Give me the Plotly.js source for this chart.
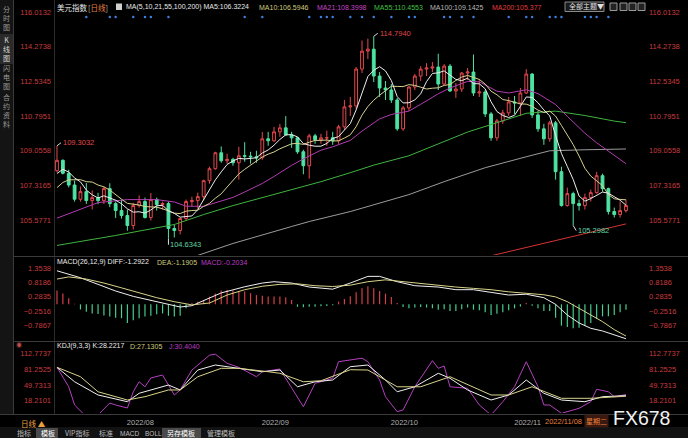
<!DOCTYPE html>
<html><head><meta charset="utf-8">
<script src="https://cdn.plot.ly/plotly-3.0.1.min.js"></script>
<style>html,body{margin:0;padding:0;background:#000;overflow:hidden}#chart{width:688px;height:438px}</style>
</head><body><div id="chart"></div>
<script>
// ---------- data ----------
const dates = ['2022-07-14','2022-07-15','2022-07-18','2022-07-19','2022-07-20','2022-07-21','2022-07-22','2022-07-25','2022-07-26','2022-07-27','2022-07-28','2022-07-29',
'2022-08-01','2022-08-02','2022-08-03','2022-08-04','2022-08-05','2022-08-08','2022-08-09','2022-08-10','2022-08-11','2022-08-12','2022-08-15','2022-08-16','2022-08-17','2022-08-18','2022-08-19','2022-08-22','2022-08-23','2022-08-24','2022-08-25','2022-08-26','2022-08-29','2022-08-30','2022-08-31',
'2022-09-01','2022-09-02','2022-09-05','2022-09-06','2022-09-07','2022-09-08','2022-09-09','2022-09-12','2022-09-13','2022-09-14','2022-09-15','2022-09-16','2022-09-19','2022-09-20','2022-09-21','2022-09-22','2022-09-23','2022-09-26','2022-09-27','2022-09-28','2022-09-29','2022-09-30',
'2022-10-03','2022-10-04','2022-10-05','2022-10-06','2022-10-07','2022-10-10','2022-10-11','2022-10-12','2022-10-13','2022-10-14','2022-10-17','2022-10-18','2022-10-19','2022-10-20','2022-10-21','2022-10-24','2022-10-25','2022-10-26','2022-10-27','2022-10-28','2022-10-31',
'2022-11-01','2022-11-02','2022-11-03','2022-11-04','2022-11-07','2022-11-08','2022-11-09','2022-11-10','2022-11-11','2022-11-14','2022-11-15','2022-11-16','2022-11-17','2022-11-18','2022-11-21','2022-11-22','2022-11-23','2022-11-24','2022-11-25','2022-11-28'];

const openP = [108.05,108.57,107.92,107.33,106.62,107.00,106.55,106.70,106.55,107.15,106.40,106.05,
105.80,105.30,106.30,106.50,105.70,106.60,106.35,106.40,105.15,105.05,105.65,106.50,106.55,106.75,107.55,108.15,108.95,108.55,108.62,108.45,108.80,108.78,108.75,
108.70,109.65,109.55,110.00,110.20,109.85,109.70,109.00,108.30,109.80,109.60,109.70,109.70,109.55,110.25,111.25,111.30,113.15,114.05,114.15,112.80,112.20,
112.10,111.60,110.15,111.20,112.25,112.80,113.15,113.20,113.25,112.40,113.30,112.05,112.15,112.95,113.00,111.95,112.00,110.90,109.70,110.55,110.95,
111.50,111.45,111.95,112.90,110.85,110.15,109.65,110.45,108.00,106.30,106.90,106.40,106.30,106.70,106.95,107.80,107.15,106.00,105.85,106.05];
const highP = [109.30,108.62,108.10,107.55,107.26,107.43,107.06,106.94,107.25,107.42,106.50,106.59,
106.10,106.44,106.81,106.70,106.93,106.70,106.50,106.50,105.35,105.70,106.60,106.75,106.95,107.60,108.25,109.00,109.27,108.90,108.70,109.25,109.48,109.00,109.05,
109.99,110.00,110.25,110.40,110.79,110.00,109.75,109.10,109.90,109.90,109.90,110.06,110.00,110.35,111.60,111.75,113.25,114.58,114.68,114.794,113.00,112.55,
112.40,111.70,111.30,112.30,112.90,113.30,113.45,113.50,113.92,113.40,113.40,112.45,113.00,113.20,113.88,112.65,112.10,111.00,110.65,111.10,111.75,
111.80,112.20,113.15,112.95,111.05,110.40,110.55,110.55,108.25,107.20,107.00,106.60,106.90,107.10,107.99,107.90,107.20,106.20,106.50,106.60];
const lowP = [107.97,107.86,107.21,106.50,106.50,106.38,106.11,106.37,106.38,106.22,105.68,105.65,
105.04,105.10,106.20,105.65,105.55,106.05,106.10,104.6343,104.70,104.85,105.55,106.25,106.15,106.55,107.40,108.10,108.45,108.40,108.30,107.60,108.50,108.40,108.45,
108.60,109.30,109.50,109.75,109.80,109.20,108.90,107.87,107.65,109.40,109.40,109.30,109.35,109.40,110.10,110.80,111.15,112.95,113.65,112.50,111.75,111.60,
111.45,110.05,110.05,111.05,112.10,112.55,112.80,113.00,112.10,112.35,112.00,111.70,112.00,112.60,111.80,111.75,110.75,109.55,109.55,110.40,110.80,
110.90,110.80,111.90,110.70,110.00,109.35,109.50,107.60,106.25,106.25,105.2982,106.05,106.10,106.50,106.90,107.00,105.85,105.70,105.70,105.95];
const closeP = [108.57,107.92,107.33,106.62,107.00,106.55,106.70,106.55,107.15,106.40,106.05,105.80,
105.30,106.30,106.50,105.70,106.60,106.35,106.40,105.15,105.05,105.65,106.50,106.55,106.75,107.55,108.15,108.95,108.55,108.62,108.45,108.80,108.78,108.75,108.70,
109.65,109.55,110.00,110.20,109.85,109.70,109.00,108.30,109.80,109.60,109.70,109.70,109.55,110.25,111.25,111.30,113.15,114.05,114.15,112.80,112.20,112.10,
111.60,110.15,111.20,112.25,112.80,113.15,113.20,113.25,112.40,113.30,112.05,112.15,112.95,113.00,111.95,112.00,110.90,109.70,110.55,110.95,111.50,
111.45,111.95,112.90,110.85,110.15,109.65,110.45,108.00,106.30,106.90,106.40,106.30,106.70,106.95,107.80,107.15,106.00,105.85,106.05,106.30];

const ma5 = [107.91,108.12,107.98,107.69,107.49,107.08,106.84,106.68,106.79,106.67,106.57,106.39,106.14,105.97,105.99,105.92,106.08,106.29,106.31,106.04,105.91,105.72,105.75,105.78,106.10,106.60,107.10,107.59,107.99,108.36,108.54,108.67,108.64,108.68,108.70,108.94,109.09,109.33,109.62,109.85,109.86,109.75,109.41,109.33,109.28,109.28,109.42,109.67,109.76,110.09,110.41,111.10,112.00,112.78,113.09,113.27,113.06,112.57,111.77,111.45,111.46,111.60,111.91,112.52,112.93,112.96,113.06,112.84,112.63,112.57,112.69,112.42,112.41,112.16,111.51,111.02,110.82,110.72,110.83,111.28,111.75,111.73,111.46,111.10,110.80,109.82,108.91,108.26,107.61,106.78,106.52,106.65,106.83,106.98,106.92,106.75,106.57,106.32];
const ma10 = [107.20,107.46,107.59,107.60,107.60,107.50,107.48,107.33,107.24,107.08,106.83,106.62,106.41,106.38,106.33,106.25,106.24,106.22,106.14,106.02,105.92,105.90,106.02,106.05,106.07,106.26,106.41,106.67,106.89,107.23,107.57,107.89,108.12,108.34,108.53,108.74,108.88,108.99,109.15,109.28,109.40,109.42,109.37,109.48,109.57,109.57,109.59,109.54,109.55,109.69,109.85,110.26,110.84,111.27,111.59,111.84,112.08,112.29,112.28,112.27,112.37,112.33,112.24,112.15,112.19,112.21,112.33,112.38,112.58,112.75,112.83,112.74,112.63,112.40,112.04,111.86,111.62,111.57,111.50,111.40,111.39,111.28,111.09,110.97,111.04,110.79,110.32,109.86,109.36,108.79,108.17,107.78,107.55,107.30,106.85,106.64,106.61,106.59];
const ma21Idx = [0,3,7,12,17,20,22,25,27,30,32,35,37,40,42,45,47,50,52,55,57,60,62,65,67,70,72,75,77,80,82,85,87,90,92,95,97];
const ma21Val = [105.67,106.00,106.45,106.60,106.60,106.48,106.27,106.26,106.45,106.71,106.98,107.41,107.76,108.32,108.64,109.08,109.25,109.57,110.04,110.65,110.87,111.04,111.38,111.91,112.20,112.53,112.51,112.04,111.95,112.11,111.92,111.37,110.78,109.93,109.45,108.80,108.40];
const ma55Idx = [0,10,20,25,30,35,40,45,50,54,60,65,70,75,80,85,90,95,97];
const ma55Val = [104.30,104.80,105.35,105.85,106.30,106.70,107.10,107.50,107.95,108.33,108.80,109.38,109.99,110.46,110.93,111.04,110.82,110.54,110.46];
const ma100Idx = [0,10,20,30,40,43,50,60,66,73,80,84,90,97];
const ma100Val = [101.90,102.60,103.40,104.40,105.25,105.50,106.00,106.85,107.50,108.20,108.75,109.05,109.10,109.14];
const ma200Idx = [0,20,40,60,70,75,80,85,90,97];
const ma200Val = [99.70,100.70,101.80,102.90,103.50,103.85,104.20,104.55,104.90,105.38];

const macdHist = [0.52,0.41,0.23,0.02,-0.19,-0.28,-0.34,-0.36,-0.42,-0.46,
-0.50,-0.52,-0.70,-0.60,-0.52,-0.46,-0.43,-0.37,-0.34,-0.43,
-0.46,-0.43,-0.15,0.05,0.10,0.16,0.29,0.41,0.52,0.54,
0.52,0.50,0.48,0.42,0.35,0.32,0.29,0.29,0.29,0.27,
0.16,-0.09,-0.11,-0.09,-0.09,-0.07,-0.06,-0.03,0.10,0.20,
0.30,0.45,0.60,0.68,0.60,0.50,0.40,0.28,0.05,-0.10,
-0.15,-0.12,-0.10,-0.12,-0.15,-0.20,-0.18,-0.25,-0.25,-0.18,
-0.12,-0.20,-0.22,-0.30,-0.40,-0.35,-0.30,-0.22,-0.15,-0.08,
0.05,-0.05,-0.15,-0.25,-0.25,-0.50,-0.80,-0.85,-0.90,-0.88,
-0.80,-0.70,-0.55,-0.45,-0.45,-0.40,-0.30,-0.2034];
const diffIdx = [0,4,7,10,13,16,19,21,23,25,28,32,35,37,40,43,47,50,53,55,58,61,65,68,71,74,77,80,83,85,87,89,91,93,95,97];
const diffVal = [1.26,1.00,0.75,0.50,0.30,0.15,0.00,-0.10,-0.05,0.15,0.43,0.66,0.80,0.85,0.80,0.65,0.57,0.80,1.05,1.05,0.85,0.70,0.65,0.55,0.55,0.45,0.35,0.38,0.25,0.00,-0.40,-0.70,-0.90,-1.00,-1.15,-1.2922];
const deaIdx = [0,2,5,8,11,14,17,20,23,26,29,32,35,38,41,44,47,50,53,56,59,62,65,68,71,74,77,80,83,85,87,89,91,93,95,97];
const deaVal = [0.95,1.03,0.95,0.80,0.62,0.43,0.25,0.10,-0.02,0.05,0.35,0.55,0.68,0.75,0.77,0.70,0.67,0.72,0.85,0.92,0.85,0.78,0.72,0.65,0.60,0.55,0.47,0.42,0.36,0.28,0.10,-0.15,-0.40,-0.65,-0.95,-1.1905];

const kIdx = [0,3,7,12,14,19,21,24,27,30,35,38,41,44,47,50,53,56,58,61,65,67,70,74,77,80,83,86,90,93,97];
const kVal = [84.8,56.0,29.6,16.2,33.0,49.5,39.6,79.4,89.4,84.8,76.0,79.4,46.0,56.0,59.5,86.0,89.4,59.5,36.0,46.0,72.9,62.9,39.6,19.6,29.6,59.5,33.0,19.6,16.2,26.2,28.2217];
const dIdx = [0,4,7,12,15,19,21,24,28,31,36,38,42,45,50,53,58,62,67,74,77,81,86,91,97];
const dVal = [84.8,66.0,36.0,19.6,26.2,39.6,39.6,66.0,82.8,82.8,76.0,72.9,56.0,58.0,80.0,79.4,46.0,46.0,66.0,29.6,29.6,46.0,23.0,23.0,27.1305];
const jIdx = [0,2,3,5,7,9,10,12,13,14,15,16,18,20,21,23,26,27,29,31,34,35,38,40,42,44,46,47,48,50,52,53,55,56,58,59,61,64,65,66,67,70,72,74,76,78,80,82,83,84,86,89,91,92,94,95,97];
const jVal = [84.8,46.0,9.6,-13.7,-10.3,13.6,9.6,3.6,36.0,56.0,46.0,63.5,69.5,29.6,39.6,79.4,109.0,111.0,92.8,84.8,66.0,76.0,81.4,43.0,6.2,52.9,59.5,62.9,96.0,99.4,103.0,96.0,59.5,26.2,-3.7,-0.3,46.0,98.0,82.8,87.4,46.0,43.0,9.6,-10.3,16.2,46.0,96.0,46.0,9.6,9.6,-7.0,3.0,16.2,41.0,36.0,26.2,30.404];

const eventIdx = [5,9,10,13,15,16,19,32,35,43,45,46,47,50,52,54,57,60,61,66,67,69,71,77,80,81,84,85,86,90,91,92,94];

const priceTicks = [116.0132,114.2738,112.5345,110.7951,109.0558,107.3165,105.5771];
const macdTicks = [1.3538,0.8186,0.2835,-0.2516,-0.7867];
const kdjTicks = [112.7737,81.2525,49.7313,18.2101];
const monthTicks = ['2022-08-01','2022-09-01','2022-10-03','2022-11-01'];
const monthLabels = ['2022/08','2022/09','2022/10','2022/11'];

// ---------- layout helpers ----------
const W = 688, H = 438;
const FONT = '"Liberation Sans", "Noto Sans CJK SC", sans-serif';
const CJK = '"Noto Sans CJK SC", "Liberation Sans", sans-serif';
const px = x => x / W, py = y => 1 - y / H;
const pick = (idx, arr) => idx.map(i => arr[i]);
const mainRange = [103.82, 116.114];
const macdRange = [-1.339, 1.7405];
const kdjRange = [-6.33, 133.3];
const UP = '#e5484d', DOWN = '#4fe3a2';
const TICKRED = '#c73b3e';

function line(x, y, color, yaxis, w) {
  return {type: 'scatter', mode: 'lines', x, y, yaxis, xaxis: 'x',
    line: {color, width: w || 1}, hoverinfo: 'skip', showlegend: false};
}

const traces = [
  {type: 'candlestick', x: dates, open: openP, high: highP, low: lowP, close: closeP,
   xaxis: 'x', yaxis: 'y', whiskerwidth: 0, hoverinfo: 'skip', showlegend: false,
   increasing: {line: {color: UP, width: 1}, fillcolor: 'rgba(0,0,0,0)'},
   decreasing: {line: {color: DOWN, width: 1}, fillcolor: DOWN}},
  line(pick(ma200Idx, dates), ma200Val, '#d83434', 'y4'),
  line(pick(ma100Idx, dates), ma100Val, '#9c9c9c', 'y'),
  line(pick(ma55Idx, dates), ma55Val, '#3fb43f', 'y'),
  line(pick(ma21Idx, dates), ma21Val, '#b23cb2', 'y'),
  line(dates, ma10, '#d6d28e', 'y'),
  line(dates, ma5, '#eeeeee', 'y'),
  {type: 'scatter', mode: 'markers', x: pick(eventIdx, dates),
   y: eventIdx.map(() => mainRange[1] - 7 / 19.93), xaxis: 'x', yaxis: 'y',
   marker: {color: '#3d7fe0', size: 2.5}, hoverinfo: 'skip', showlegend: false, cliponaxis: false},
  {type: 'bar', x: dates, y: macdHist, xaxis: 'x', yaxis: 'y2', width: 0.2,
   marker: {color: macdHist.map(v => v >= 0 ? '#d8404a' : '#47d08f'), line: {width: 0}},
   hoverinfo: 'skip', showlegend: false},
  line(pick(deaIdx, dates), deaVal, '#d8d48a', 'y5'),
  line(pick(diffIdx, dates), diffVal, '#f0f0f0', 'y2'),
  line(pick(jIdx, dates), jVal, '#b440c0', 'y3'),
  line(pick(dIdx, dates), dVal, '#d8d48a', 'y6'),
  line(pick(kIdx, dates), kVal, '#f0f0f0', 'y3')
];

function yax(domain, range, ticks, side, overlay, standoff) {
  const a = {domain, range, tickvals: ticks, tickformat: '.4f', ticks: '', showgrid: false,
    zeroline: false, showline: false, fixedrange: true, side, anchor: 'x',
    ticklabelstandoff: standoff, tickfont: {family: FONT, size: 7.5, color: TICKRED}};
  if (overlay) a.overlaying = overlay;
  return a;
}
const dMain = [py(255), py(10)], dMacd = [py(340), py(258)], dKdj = [py(413), py(343)];

function t(x, y, text, color, size, extra) {
  return Object.assign({xref: 'paper', yref: 'paper', x: px(x), y: py(y), text,
    showarrow: false, xanchor: 'left', yanchor: 'middle',
    font: {family: FONT, size: size || 7, color}}, extra || {});
}
const cj = (size, color) => ({font: {family: CJK, size, color}});
const annotations = [
  // title row
  t(55, 7, '美元指数', '#e8e8e8', 7.5, cj(7.5, '#e8e8e8')),
  t(86, 7, '<span style="color:#bbbbbb">[</span>日线<span style="color:#bbbbbb">]</span>', '#e8803a', 7.5, cj(7.5, '#e8803a')),
  t(124, 7, 'MA(5,10,21,55,100,200) MA5:106.3224', '#e8e8e8'),
  t(257, 7, 'MA10:106.5946', '#cfcb7c'),
  t(315, 7, 'MA21:108.3998', '#c845c8'),
  t(372, 7, 'MA55:110.4553', '#43c043'),
  t(428, 7, 'MA100:109.1425', '#b8b8b8'),
  t(490, 7, 'MA200:105.377', '#e33c3c'),
  t(567, 6.5, '全部主题▼', '#e0e0e0', 7, cj(7, '#e0e0e0')),
  // MACD / KDJ titles
  t(55, 262, 'MACD(26,12,9) DIFF:-1.2922', '#ececec'),
  t(155, 262, 'DEA:-1.1905', '#cfcb7c'),
  t(199, 262, 'MACD:-0.2034', '#b83cc0'),
  t(55, 346, 'KDJ(9,3,3) K:28.2217', '#ececec'),
  t(128, 346, 'D:27.1305', '#cfcb7c'),
  t(167, 346, 'J:30.4040', '#b83cc0'),
  t(14, 345, '◉', '#c05050', 6),
  // left strip
  t(6.5, 18, '分<br>时<br>图', '#9a9a9a', 7, Object.assign({xanchor: 'center'}, cj(7, '#9a9a9a'))),
  t(6.5, 49, 'K<br>线<br>图', '#d8d8d8', 7, Object.assign({xanchor: 'center'}, cj(7, '#d8d8d8'))),
  t(6.5, 77, '闪<br>电<br>图', '#9a9a9a', 7, Object.assign({xanchor: 'center'}, cj(7, '#9a9a9a'))),
  t(6.5, 110, '合<br>约<br>资<br>料', '#9a9a9a', 7, Object.assign({xanchor: 'center'}, cj(7, '#9a9a9a'))),
  // bottom
  t(19, 423, '日线 ▲', '#e8a040', 7.5, cj(7.5, '#e8a040')),
  t(543, 421, '2022/11/08', '#e8803a', 7.5),
  t(584, 421, '星期二', '#e8803a', 7, Object.assign({bgcolor: '#3a1a10'}, cj(7, '#e8803a'))),
  t(611, 418, 'FX678', '#f2f2f2', 19.5, {font: {family: FONT, size: 19.5, color: '#f2f2f2'}}),
  t(15, 433, '指标', '#bdbdbd', 7, cj(7, '#bdbdbd')),
  t(39, 433, '模板', '#ffffff', 7, cj(7, '#ffffff')),
  t(63, 433, 'VIP指标', '#bdbdbd', 7, cj(7, '#bdbdbd')),
  t(97, 433, '标准', '#bdbdbd', 7, cj(7, '#bdbdbd')),
  t(118, 433, 'MACD', '#bdbdbd', 6.5),
  t(143, 433, 'BOLL', '#bdbdbd', 6.5),
  t(165, 433, '另存模板', '#ffffff', 7, cj(7, '#ffffff')),
  t(205, 433, '管理模板', '#bdbdbd', 7, cj(7, '#bdbdbd')),
  // extreme marks (data coords)
  {xref: 'x', yref: 'y', x: dates[0], y: highP[0], text: '109.3032', showarrow: true, arrowhead: 0, arrowwidth: 1,
   arrowcolor: '#dddddd', ax: 4, ay: -3, xanchor: 'left', yanchor: 'middle', font: {family: FONT, size: 7.5, color: '#e0464a'}},
  {xref: 'x', yref: 'y', x: dates[54], y: highP[54], text: '114.7940', showarrow: true, arrowhead: 0, arrowwidth: 1,
   arrowcolor: '#dddddd', ax: 4, ay: -3, xanchor: 'left', yanchor: 'middle', font: {family: FONT, size: 7.5, color: '#e0464a'}},
  {xref: 'x', yref: 'y', x: dates[19], y: lowP[19], text: '104.6343', showarrow: true, arrowhead: 0, arrowwidth: 1,
   arrowcolor: '#dddddd', ax: 0, ay: 6, xanchor: 'left', yanchor: 'middle', font: {family: FONT, size: 7.5, color: '#5fd6a2'}},
  {xref: 'x', yref: 'y', x: dates[88], y: lowP[88], text: '105.2982', showarrow: true, arrowhead: 0, arrowwidth: 1,
   arrowcolor: '#dddddd', ax: 3, ay: 5, xanchor: 'left', yanchor: 'middle', font: {family: FONT, size: 7.5, color: '#5fd6a2'}}
];

const shapes = [
  {type: 'rect', xref: 'paper', yref: 'paper', x0: 0, x1: px(13), y0: py(415), y1: 1, fillcolor: '#141414', line: {width: 0}, layer: 'below'},
  {type: 'rect', xref: 'paper', yref: 'paper', x0: 0, x1: px(13), y0: py(64), y1: py(34), fillcolor: '#2a2a2a', line: {width: 0}, layer: 'below'},
  {type: 'line', xref: 'paper', yref: 'paper', x0: px(13.5), x1: px(13.5), y0: py(415), y1: 1, line: {color: '#3a3a3a', width: 1}},
  {type: 'line', xref: 'paper', yref: 'paper', x0: px(54.5), x1: px(54.5), y0: py(414), y1: py(0), line: {color: '#2c2c2c', width: 1}},
  {type: 'line', xref: 'paper', yref: 'paper', x0: px(13), x1: 1, y0: py(256.5), y1: py(256.5), line: {color: '#3a3a3a', width: 1}},
  {type: 'line', xref: 'paper', yref: 'paper', x0: px(13), x1: 1, y0: py(341.5), y1: py(341.5), line: {color: '#3a3a3a', width: 1}},
  {type: 'line', xref: 'paper', yref: 'paper', x0: 0, x1: 1, y0: py(414.5), y1: py(414.5), line: {color: '#3a3a3a', width: 1}},
  {type: 'rect', xref: 'paper', yref: 'paper', x0: 0, x1: 1, y0: 0, y1: py(427), fillcolor: '#121212', line: {width: 0}, layer: 'below'},
  {type: 'rect', xref: 'paper', yref: 'paper', x0: px(36), x1: px(58), y0: py(438), y1: py(428), fillcolor: '#4a4a4a', line: {width: 0}, layer: 'below'},
  {type: 'rect', xref: 'paper', yref: 'paper', x0: px(162), x1: px(201), y0: py(438), y1: py(428), fillcolor: '#4a4a4a', line: {width: 0}, layer: 'below'},
  {type: 'rect', xref: 'paper', yref: 'paper', x0: px(565), x1: px(604), y0: py(11.5), y1: py(2), fillcolor: '#1a1a1a', line: {color: '#8a8a8a', width: 1}},
  {type: 'rect', xref: 'paper', yref: 'paper', x0: px(116), x1: px(122), y0: py(10), y1: py(3.5), fillcolor: '#cfcfcf', line: {width: 0}},
  {type: 'rect', xref: 'paper', yref: 'paper', x0: px(610), x1: px(617), y0: py(10.5), y1: py(3), fillcolor: '#222', line: {color: '#9a9a9a', width: 1}},
  {type: 'rect', xref: 'paper', yref: 'paper', x0: px(620), x1: px(627), y0: py(10.5), y1: py(3), fillcolor: '#222', line: {color: '#9a9a9a', width: 1}},
  {type: 'rect', xref: 'paper', yref: 'paper', x0: px(629), x1: px(636), y0: py(10.5), y1: py(3), fillcolor: '#222', line: {color: '#9a9a9a', width: 1}},
  {type: 'rect', xref: 'paper', yref: 'paper', x0: px(638), x1: px(645), y0: py(10.5), y1: py(3), fillcolor: '#222', line: {color: '#9a9a9a', width: 1}}
];

const layout = {
  width: W, height: H, margin: {l: 0, r: 0, t: 0, b: 0},
  paper_bgcolor: '#000000', plot_bgcolor: '#000000', showlegend: false, hovermode: false,
  boxgap: 0.32,
  xaxis: {domain: [px(55), px(640)], type: 'category', range: [-0.34, 99.39], anchor: 'y3',
    showgrid: false, zeroline: false, showline: false, ticks: '', fixedrange: true,
    tickvals: monthTicks, ticktext: monthLabels, ticklabelshift: 13, ticklabelstandoff: 3,
    tickangle: 0, tickfont: {family: FONT, size: 7.5, color: '#b0b0b0'}, rangeslider: {visible: false}},
  yaxis: yax(dMain, mainRange, priceTicks, 'left', null, 3),
  yaxis4: yax(dMain, mainRange, priceTicks, 'right', 'y', 8),
  yaxis2: yax(dMacd, macdRange, macdTicks, 'left', null, 3),
  yaxis5: yax(dMacd, macdRange, macdTicks, 'right', 'y2', 8),
  yaxis3: yax(dKdj, kdjRange, kdjTicks, 'left', null, 3),
  yaxis6: yax(dKdj, kdjRange, kdjTicks, 'right', 'y3', 8),
  annotations, shapes
};

Plotly.newPlot('chart', traces, layout, {displayModeBar: false, staticPlot: true});
</script>
</body></html>
